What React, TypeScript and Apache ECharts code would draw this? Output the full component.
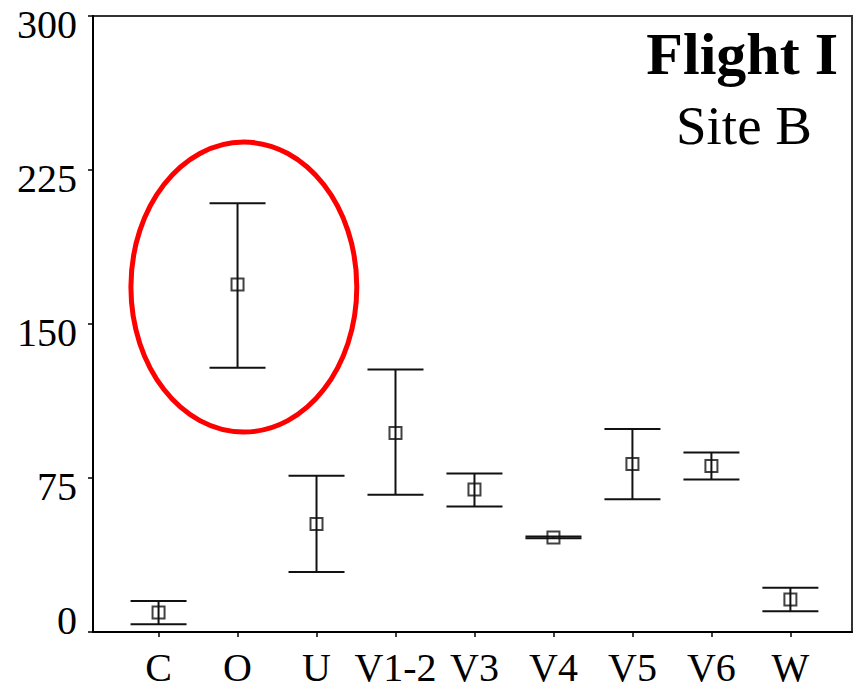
import React, { useEffect, useRef } from "react";
import * as echarts from "echarts";

const categories = ["C", "O", "U", "V1-2", "V3", "V4", "V5", "V6", "W"];
const means = [9.5, 169.2, 52.6, 96.9, 69.4, 46.0, 81.8, 80.9, 15.8];
const lowers = [3.8, 128.7, 29.2, 66.8, 61.1, 45.7, 64.7, 74.3, 10.1];
const uppers = [15.1, 208.8, 76.1, 127.8, 77.2, 46.5, 98.9, 87.4, 21.5];
const yTicks = [0, 75, 150, 225, 300];
const ellipseCenter = [1.08, 168];
const ellipseRadius = [1.43, 70.6];
const titleText = "Flight I";
const subtitleText = "Site B";

const SERIF = '"Liberation Serif", "Times New Roman", serif';

export default function App() {
  const ref = useRef<HTMLDivElement>(null);
  useEffect(() => {
    if (!ref.current) return;
    const chart = echarts.init(ref.current, undefined, { renderer: "svg" });
    const idx = categories.map((_, i) => i);
    const option: any = {
      animation: false,
      backgroundColor: "#fff",
      grid: {
        left: 93,
        right: 4,
        top: 16,
        bottom: 58,
        show: true,
        borderColor: "#333",
        borderWidth: 2,
        backgroundColor: "transparent",
      },
      xAxis: {
        type: "value",
        min: -0.83,
        max: 8.78,
        splitLine: { show: false },
        axisLine: { show: true, onZero: false, lineStyle: { color: "#000", width: 2 } },
        axisTick: { show: true, customValues: idx, length: 5, lineStyle: { color: "#000", width: 1.5 } },
        axisLabel: {
          customValues: idx,
          formatter: (v: number) => categories[Math.round(v)] ?? "",
          fontFamily: SERIF,
          fontSize: 40,
          lineHeight: 40,
          color: "#000",
          margin: 15,
        },
      },
      yAxis: {
        type: "value",
        min: 0,
        max: 300,
        interval: 75,
        splitLine: { show: false },
        axisLine: { show: true, onZero: false, lineStyle: { color: "#000", width: 2 } },
        axisTick: { show: true, length: 5, lineStyle: { color: "#000", width: 1.5 } },
        axisLabel: {
          fontFamily: SERIF,
          fontSize: 40,
          color: "#000",
          margin: 16,
          formatter: (v: number) =>
            yTicks.includes(v) ? (v === 0 ? `{z|${v}}` : `{n|${v}}`) : "",
          rich: {
            n: { fontFamily: SERIF, fontSize: 40, color: "#000", padding: [16, 0, 0, 0] },
            z: { fontFamily: SERIF, fontSize: 40, color: "#000", padding: [0, 0, 24, 0] },
          },
        },
      },
      series: [
        {
          type: "custom",
          data: idx.map((i) => [i, lowers[i], uppers[i]]),
          encode: { x: 0, y: [1, 2] },
          renderItem: (params: any, api: any) => {
            const x = api.value(0);
            const lo = api.coord([x, api.value(1)]);
            const hi = api.coord([x, api.value(2)]);
            const hw = 28;
            const style = { stroke: "#111", lineWidth: 2 };
            return {
              type: "group",
              children: [
                { type: "line", shape: { x1: lo[0], y1: lo[1], x2: hi[0], y2: hi[1] }, style },
                { type: "line", shape: { x1: hi[0] - hw, y1: hi[1], x2: hi[0] + hw, y2: hi[1] }, style },
                { type: "line", shape: { x1: lo[0] - hw, y1: lo[1], x2: lo[0] + hw, y2: lo[1] }, style },
              ],
            };
          },
          z: 2,
        },
        {
          type: "scatter",
          data: idx.map((i) => [i, means[i]]),
          symbol: "rect",
          symbolSize: 12,
          itemStyle: { color: "transparent", borderColor: "#111", borderWidth: 2 },
          z: 3,
        },
        {
          type: "custom",
          data: [[ellipseCenter[0], ellipseCenter[1], ellipseRadius[0], ellipseRadius[1]]],
          encode: { x: 0, y: 1 },
          renderItem: (params: any, api: any) => {
            const c = api.coord([api.value(0), api.value(1)]);
            const s = api.size([api.value(2), api.value(3)]);
            return {
              type: "ellipse",
              shape: { cx: c[0], cy: c[1], rx: s[0], ry: s[1] },
              style: { fill: "none", stroke: "#ff0000", lineWidth: 5 },
            };
          },
          z: 4,
        },
      ],
      graphic: [
        {
          type: "text",
          right: 18,
          top: 24,
          style: {
            text: titleText,
            fontFamily: SERIF,
            fontSize: 60,
            fontWeight: "bold",
            fill: "#000",
          },
        },
        {
          type: "text",
          x: 744,
          y: 125,
          style: {
            text: subtitleText,
            fontFamily: SERIF,
            fontSize: 55,
            fill: "#000",
            align: "center",
            verticalAlign: "middle",
          },
        },
      ],
    };
    chart.setOption(option);
    return () => chart.dispose();
  }, []);
  return (
    <div
      ref={ref}
      style={{ position: "fixed", left: 0, top: 0, width: 856, height: 690, background: "#fff" }}
    />
  );
}
